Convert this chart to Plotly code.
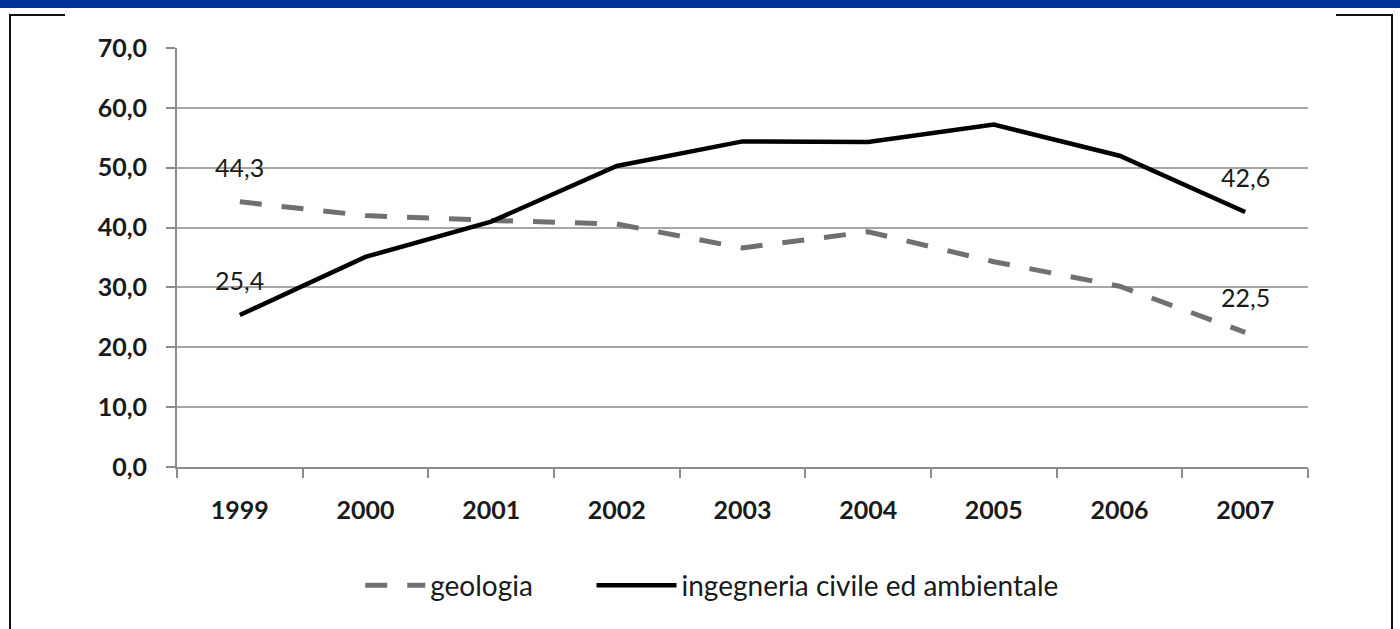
import plotly.graph_objects as go

years = ["1999", "2000", "2001", "2002", "2003", "2004", "2005", "2006", "2007"]
geologia = [44.3, 42.0, 41.2, 40.6, 36.6, 39.3, 34.3, 30.2, 22.5]
ingegneria = [25.4, 35.1, 41.0, 50.3, 54.4, 54.3, 57.2, 52.0, 42.6]
y_ticks = [0, 10, 20, 30, 40, 50, 60, 70]
y_tick_labels = ["0,0", "10,0", "20,0", "30,0", "40,0", "50,0", "60,0", "70,0"]

FONT = "Lato"
TXT = "#1a1a1a"

fig = go.Figure()
fig.add_trace(go.Scatter(x=years, y=geologia, mode="lines", name="geologia", legend="legend",
                         line=dict(color="#707070", width=5, dash="22px,20px")))
fig.add_trace(go.Scatter(x=years, y=ingegneria, mode="lines", name="ingegneria civile ed ambientale",
                         legend="legend2", line=dict(color="#000000", width=4.5)))


def fmt(v):
    return f"{v:.1f}".replace(".", ",")


# data labels on first and last points
for series in (geologia, ingegneria):
    for i in (0, len(years) - 1):
        fig.add_annotation(xref="x", yref="y", x=i, y=series[i], text=fmt(series[i]),
                           showarrow=False, yshift=35,
                           font=dict(family=FONT, size=25, color=TXT))

# slide decoration: blue top bar and black frame
px_x = lambda p: (p - 177) / 1131
px_y = lambda p: (467 - p) / 419
fig.add_shape(type="rect", xref="paper", yref="paper", x0=px_x(0), x1=px_x(1400),
              y0=px_y(8), y1=px_y(0), fillcolor="#003399", line_width=0, layer="below")
frame = dict(color="#111111", width=2)
fig.add_shape(type="path", xref="paper", yref="paper",
              path=f"M {px_x(10)} {px_y(629)} L {px_x(10)} {px_y(15)} L {px_x(65)} {px_y(15)}",
              line=frame)
fig.add_shape(type="path", xref="paper", yref="paper",
              path=f"M {px_x(1336)} {px_y(15)} L {px_x(1392)} {px_y(15)} L {px_x(1392)} {px_y(629)}",
              line=frame)

leg_font = dict(family=FONT, size=28, color=TXT)
fig.update_layout(
    width=1400, height=629,
    margin=dict(l=177, r=92, t=48, b=162),
    plot_bgcolor="white", paper_bgcolor="white",
    font=dict(family=FONT, size=25, color=TXT),
    showlegend=True,
    legend=dict(orientation="h", x=0.162, xanchor="left", y=-0.283, yanchor="middle",
                font=leg_font, itemwidth=60),
    legend2=dict(orientation="h", x=0.3665, xanchor="left", y=-0.283, yanchor="middle",
                 font=leg_font, itemwidth=80),
)
fig.update_xaxes(type="category", range=[-0.5, 8.5], showline=True, linecolor="#8c8c8c", linewidth=2,
                 ticks="outside", tickson="boundaries", ticklen=9, tickcolor="#8c8c8c", tickwidth=2,
                 showgrid=False, ticklabelstandoff=20,
                 tickfont=dict(family=FONT, size=25, color=TXT, weight="bold"))
fig.update_yaxes(range=[0, 70], tickvals=y_ticks, ticktext=y_tick_labels, showline=True,
                 linecolor="#8c8c8c", linewidth=2, ticks="outside", ticklen=9, tickcolor="#8c8c8c",
                 tickwidth=2, gridcolor="#a6a6a6", gridwidth=2, zeroline=False,
                 ticklabelstandoff=14,
                 tickfont=dict(family=FONT, size=25, color=TXT, weight="bold"))

fig.write_html("out.html", config={"displayModeBar": False},
               post_script="document.body.style.margin='0';")
